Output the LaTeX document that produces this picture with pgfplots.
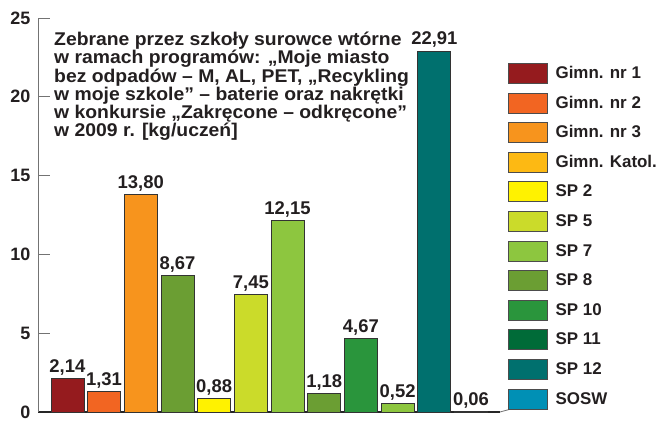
\documentclass[border=0pt]{standalone}
\usepackage{fontspec}
\setmainfont{Liberation Sans}
\newfontfamily\titlefont{Liberation Sans}[FakeStretch=1.05]
\usepackage{pgfplots}
\pgfplotsset{compat=1.18}
\definecolor{c1}{HTML}{951B1E}
\definecolor{c2}{HTML}{F26522}
\definecolor{c3}{HTML}{F7941D}
\definecolor{c4}{HTML}{FDB913}
\definecolor{c5}{HTML}{FFF200}
\definecolor{c6}{HTML}{CBDB2A}
\definecolor{c7}{HTML}{8DC63F}
\definecolor{c8}{HTML}{6B9E33}
\definecolor{c9}{HTML}{2A953C}
\definecolor{c10}{HTML}{006B38}
\definecolor{c11}{HTML}{00706E}
\definecolor{c12}{HTML}{0090B5}
\definecolor{txt}{HTML}{231F20}
\pgfplotsset{
  mybar/.style={fill=#1, draw=black!80, line width=0.7bp, bar shift=0pt, forget plot},
  lg/.style={legend image code/.code={\draw[fill=#1, draw=black!70, line width=0.6bp] (0bp,-10bp) rectangle (39bp,10bp);}}
}
\begin{document}
\begin{tikzpicture}
\path[use as bounding box] (0,0) rectangle (659bp,423bp);
\begin{axis}[
  at={(38bp,11bp)}, anchor=south west,
  width=462bp, height=394bp, scale only axis,
  xmin=-0.8, xmax=11.79, ymin=0, ymax=25,
  axis x line*=bottom, axis y line*=left,
  axis line style={-},
  x axis line style={draw=black!85, line width=1.3bp},
  y axis line style={draw=black!55, line width=0.8bp},
  xtick=\empty,
  ytick={0,5,10,15,20,25},
  tick align=inside, major tick length=12bp,
  ytick style={draw=black!55, line width=0.8bp},
  /pgf/number format/assume math mode=true,
  yticklabel style={font=\bfseries\fontsize{18}{18}\selectfont, inner sep=0pt, xshift=-7.5bp, text=txt},
  ybar, bar width=33bp,
  nodes near coords,
  nodes near coords style={font=\bfseries\fontsize{18.5}{18.5}\selectfont, text=txt, anchor=base, yshift=6bp, inner sep=0pt,
    /pgf/number format/.cd, use comma, fixed, fixed zerofill, precision=2},
  legend style={at={(1.0173,0.8858)}, anchor=north west, draw=none, fill=none, inner sep=0pt, outer sep=0pt,
    row sep=9bp, column sep=8bp, font=\bfseries\fontsize{17}{17}\selectfont, nodes={inner sep=0pt, text=txt}},
  legend cell align=left,
  clip=false,
]
\addplot[mybar=c1] coordinates {(0,2.14)};
\addplot[mybar=c2] coordinates {(1,1.31)};
\addplot[mybar=c3] coordinates {(2,13.80)};
\addplot[mybar=c8] coordinates {(3,8.67)};
\addplot[mybar=c5] coordinates {(4,0.88)};
\addplot[mybar=c6] coordinates {(5,7.45)};
\addplot[mybar=c7] coordinates {(6,12.15)};
\addplot[mybar=c8] coordinates {(7,1.18)};
\addplot[mybar=c9] coordinates {(8,4.67)};
\addplot[mybar=c7] coordinates {(9,0.52)};
\addplot[mybar=c11] coordinates {(10,22.91)};
\addplot[mybar=c12] coordinates {(11,0.06)};
\addlegendimage{lg=c1}
\addlegendimage{lg=c2}
\addlegendimage{lg=c3}
\addlegendimage{lg=c4}
\addlegendimage{lg=c5}
\addlegendimage{lg=c6}
\addlegendimage{lg=c7}
\addlegendimage{lg=c8}
\addlegendimage{lg=c9}
\addlegendimage{lg=c10}
\addlegendimage{lg=c11}
\addlegendimage{lg=c12}
\legend{Gimn. nr 1, Gimn. nr 2, Gimn. nr 3, Gimn. Katol., SP 2, SP 5, SP 7, SP 8, SP 10, SP 11, SP 12, SOSW}
\draw[black!55, line width=0.8bp] (rel axis cs:1,0) -- ++(0,8bp);
\end{axis}
\node[anchor=north west, align=left, inner sep=0pt, font=\titlefont\bfseries\fontsize{18.5}{18.3}\selectfont, text=txt] at (54bp,391bp)
{Zebrane przez szkoły surowce wtórne\\
w ramach programów: „Moje miasto\\
bez odpadów – M, AL, PET, „Recykling\\
w moje szkole” – baterie oraz nakrętki\\
w konkursie „Zakręcone – odkręcone”\\
w 2009 r. [kg/uczeń]};
\end{tikzpicture}
\end{document}
